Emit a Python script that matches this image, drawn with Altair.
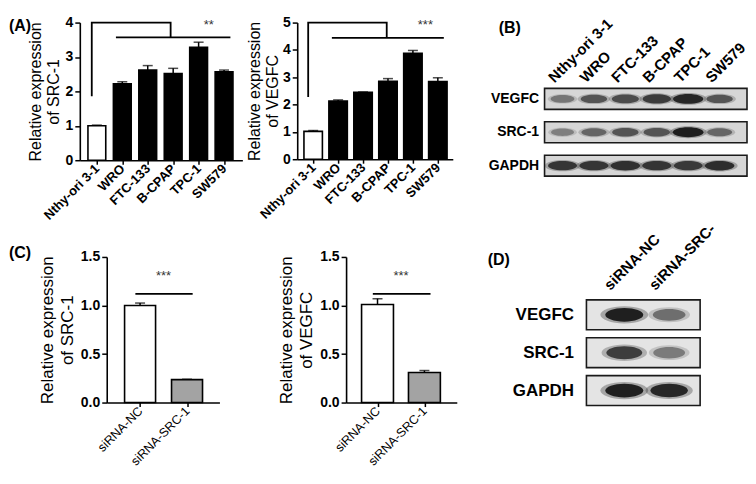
import altair as alt
import pandas as pd

FONT = "Liberation Sans"

# ---------------- Panel A: qRT-PCR in cell lines ----------------
CELL_LINES = ["Nthy-ori 3-1", "WRO", "FTC-133", "B-CPAP", "TPC-1", "SW579"]
CELL_GROUP = ["control", "tumor", "tumor", "tumor", "tumor", "tumor"]
SRC1_MEAN = [1.00, 2.22, 2.62, 2.52, 3.28, 2.57]
SRC1_ERR = [0.02, 0.06, 0.13, 0.15, 0.15, 0.05]
VEGFC_MEAN = [1.02, 2.13, 2.45, 2.85, 3.88, 2.84]
VEGFC_ERR = [0.03, 0.04, 0.01, 0.10, 0.10, 0.14]

# significance brackets (x in category index units, y in data units)
A1_BRACKET_X = [0.8, 0.8, 3.9, 3.9]
A1_BRACKET_Y = [1.86, 4.0, 4.0, 3.57]
A1_GROUP_LINE = [1.75, 6.25, 3.57]
A1_STAR = [5.4, 3.93, "**"]
A2_BRACKET_X = [0.8, 0.8, 3.95, 3.95]
A2_BRACKET_Y = [2.28, 5.0, 5.0, 4.44]
A2_GROUP_LINE = [1.75, 6.24, 4.44]
A2_STAR = [5.5, 4.9, "***"]

# ---------------- Panel C: siRNA knockdown ----------------
SIRNA = ["siRNA-NC", "siRNA-SRC-1"]
SIRNA_GROUP = ["control", "knockdown"]
C_SRC1_MEAN = [1.00, 0.236]
C_SRC1_ERR = [0.025, 0.004]
C_VEGFC_MEAN = [1.01, 0.31]
C_VEGFC_ERR = [0.06, 0.02]
C1_SIG_LINE = [0.9, 2.12, 1.12]
C1_STAR = [1.5, 1.3, "***"]
C2_SIG_LINE = [0.9, 2.13, 1.12]
C2_STAR = [1.5, 1.3, "***"]

# ---------------- Panels B and D: western blots (relative band intensity) ----------------
PROTEINS = ["VEGFC", "SRC-1", "GAPDH"]
B_VEGFC = [0.45, 0.65, 0.70, 0.80, 0.95, 0.65]
B_SRC1 = [0.40, 0.55, 0.65, 0.65, 1.00, 0.55]
B_GAPDH = [0.85, 0.85, 0.88, 0.85, 0.82, 0.90]
D_LANES = ["siRNA-NC", "siRNA-SRC-"]
D_VEGFC = [1.00, 0.50]
D_SRC1 = [0.80, 0.42]
D_GAPDH = [1.00, 0.95]

FILLS = {"control": "#ffffff", "tumor": "#000000", "knockdown": "#a3a3a3"}
ELLIPSE_B = "M-1,0 A1,0.32 0 1,0 1,0 A1,0.32 0 1,0 -1,0 Z"
ELLIPSE_D = "M-1,0 A1,0.36 0 1,0 1,0 A1,0.36 0 1,0 -1,0 Z"


def bar_panel(names, groups, means, errs, width, height, xdom, ydom, yticks, yfmt,
              title, title_size, title_lh, title_pad, hw, bracket_x, bracket_y, line, star,
              letter=None, letter_pos=None, xlab_size=13, xlab_weight="bold"):
    n = len(names)
    df = pd.DataFrame({"pos": list(range(1, n + 1)), "name": names, "group": groups,
                       "mean": means, "err": errs})
    df["x1"] = df["pos"] - hw
    df["x2"] = df["pos"] + hw
    df["top"] = df["mean"] + df["err"]
    df["zero"] = 0.0
    label_expr = "[" + ",".join("'" + s + "'" for s in names) + "][datum.value - 1]"
    xs = alt.Scale(domain=xdom, nice=False, zero=False)
    ys = alt.Scale(domain=ydom, nice=False, zero=False)
    xaxis = alt.Axis(values=list(range(1, n + 1)), labelExpr=label_expr, title=None,
                     labelAngle=-45, labelAlign="right", labelBaseline="middle",
                     labelFontSize=xlab_size, labelFontWeight=xlab_weight, labelColor="black",
                     labelOverlap=False, labelPadding=2, tickSize=4, tickWidth=1.5,
                     tickColor="black", domainColor="black", domainWidth=1.6, grid=False)
    yaxis = alt.Axis(values=yticks, format=yfmt, title=title, titleFontSize=title_size,
                     titleFontWeight="normal", titleLineHeight=title_lh, titleColor="black",
                     titlePadding=title_pad, labelFontSize=14, labelFontWeight="bold",
                     labelOverlap=False, labelColor="black", labelPadding=2, tickSize=5,
                     tickWidth=1.5, tickColor="black", domainColor="black", domainWidth=1.6,
                     grid=False)

    def X(field):
        return alt.X(field, scale=xs, axis=xaxis)

    def Y(field):
        return alt.Y(field, scale=ys, axis=yaxis)

    base = alt.Chart(df)
    bars = base.mark_rect(stroke="black", strokeWidth=1.6).encode(
        x=X("x1:Q"), x2="x2:Q", y=Y("mean:Q"), y2="zero:Q",
        fill=alt.Fill("group:N", scale=alt.Scale(domain=list(FILLS.keys()),
                                                 range=list(FILLS.values())), legend=None),
    )
    err = base.mark_rule(color="black", strokeWidth=1.5).encode(
        x=X("pos:Q"), y=Y("mean:Q"), y2="top:Q")
    cap = base.mark_tick(color="black", orient="horizontal", size=10, thickness=1.5).encode(
        x=X("pos:Q"), y=Y("top:Q"))
    layers = [bars, err, cap]
    if bracket_x:
        bdf = pd.DataFrame({"bx": bracket_x, "by": bracket_y, "o": list(range(len(bracket_x)))})
        layers.append(alt.Chart(bdf).mark_line(color="black", strokeWidth=1.8).encode(
            x=X("bx:Q"), y=Y("by:Q"), order="o:Q"))
    ldf = pd.DataFrame({"lx1": [line[0]], "lx2": [line[1]], "ly": [line[2]]})
    layers.append(alt.Chart(ldf).mark_rule(color="black", strokeWidth=1.8).encode(
        x=X("lx1:Q"), x2="lx2:Q", y=Y("ly:Q")))
    sdf = pd.DataFrame({"sx": [star[0]], "sy": [star[1]], "st": [star[2]]})
    layers.append(alt.Chart(sdf).mark_text(fontSize=13, color="#333333", baseline="middle").encode(
        x=X("sx:Q"), y=Y("sy:Q"), text="st:N"))
    if letter:
        tdf = pd.DataFrame({"t": [letter]})
        layers.append(alt.Chart(tdf).mark_text(align="left", baseline="top", fontSize=16,
                                               fontWeight="bold", color="black",
                                               x=letter_pos[0], y=letter_pos[1]).encode(text="t:N"))
    return alt.layer(*layers).properties(width=width, height=height)


def blot_panel(lanes, rows, width, height, pad_inner, lane_pad, lane_align,
               row_font, row_pad, lane_font, lane_label_pad, lane_label_offset,
               core_range, halo_range, strip_fill, letter, letter_pos, ellipse):
    strips = pd.DataFrame({"protein": PROTEINS})
    recs = []
    for prot, vals in zip(PROTEINS, rows):
        for lane, v in zip(lanes, vals):
            recs.append({"lane": lane, "protein": prot, "intensity": v})
    bdf = pd.DataFrame(recs)
    ys = alt.Scale(domain=PROTEINS, paddingInner=pad_inner, paddingOuter=0)
    xs = alt.Scale(type="point", domain=lanes, padding=lane_pad, align=lane_align)
    yaxis = alt.Axis(title=None, domain=False, ticks=False, labelFontSize=row_font,
                     labelFontWeight="bold", labelColor="black", labelPadding=row_pad)
    xaxis = alt.Axis(orient="top", title=None, domain=False, ticks=False, labelAngle=-45,
                     labelAlign="left", labelBaseline="middle", labelFontSize=lane_font,
                     labelFontWeight="bold", labelColor="black", labelPadding=lane_label_pad,
                     labelOffset=lane_label_offset, labelOverlap=False)
    strip = alt.Chart(strips).mark_rect(fill=strip_fill, stroke="#1a1a1a", strokeWidth=1.6).encode(
        y=alt.Y("protein:N", scale=ys, axis=yaxis, sort=PROTEINS))
    halo = alt.Chart(bdf).mark_point(shape=ellipse, filled=True, opacity=0.35).encode(
        x=alt.X("lane:N", scale=xs, axis=xaxis, sort=lanes),
        y=alt.Y("protein:N", scale=ys, axis=yaxis, sort=PROTEINS),
        size=alt.Size("intensity:Q", scale=alt.Scale(domain=[0, 1], range=halo_range), legend=None),
        color=alt.Color("intensity:Q", scale=alt.Scale(domain=[0, 1], range=["#d0d0d0", "#303030"]),
                        legend=None),
    )
    core = alt.Chart(bdf).mark_point(shape=ellipse, filled=True, opacity=0.92).encode(
        x=alt.X("lane:N", scale=xs, axis=xaxis, sort=lanes),
        y=alt.Y("protein:N", scale=ys, axis=yaxis, sort=PROTEINS),
        size=alt.Size("intensity:Q", scale=alt.Scale(domain=[0, 1], range=core_range), legend=None),
        color=alt.Color("intensity:Q", scale=alt.Scale(domain=[0, 1], range=["#c8c8c8", "#141414"]),
                        legend=None),
    )
    tdf = pd.DataFrame({"t": [letter]})
    lab = alt.Chart(tdf).mark_text(align="left", baseline="top", fontSize=16, fontWeight="bold",
                                   color="black", x=letter_pos[0], y=letter_pos[1]).encode(text="t:N")
    return (alt.layer(strip, halo, core, lab)
            .resolve_scale(size="independent", color="independent")
            .properties(width=width, height=height))


def spacer():
    # 1x1 empty view used only to anchor nested layouts at their bounds
    return (alt.Chart(pd.DataFrame({"v": [0]})).mark_point(opacity=0, size=1)
            .properties(width=1, height=1))


A1 = bar_panel(CELL_LINES, CELL_GROUP, SRC1_MEAN, SRC1_ERR, 163, 138, [0.33, 6.72], [0, 4],
               [0, 1, 2, 3, 4], "d", ["Relative expression", "of SRC-1"], 16, 18, 4, 0.35,
               A1_BRACKET_X, A1_BRACKET_Y, A1_GROUP_LINE, A1_STAR, "(A)", (-71, -5))
A2 = bar_panel(CELL_LINES, CELL_GROUP, VEGFC_MEAN, VEGFC_ERR, 156, 137, [0.36, 6.6], [0, 5],
               [0, 1, 2, 3, 4, 5], "d", ["Relative expression", "of VEGFC"], 16, 18, 2, 0.37,
               A2_BRACKET_X, A2_BRACKET_Y, A2_GROUP_LINE, A2_STAR)
C1 = bar_panel(SIRNA, SIRNA_GROUP, C_SRC1_MEAN, C_SRC1_ERR, 113, 146, [0.29, 2.69], [0, 1.5],
               [0, 0.5, 1.0, 1.5], ".1f", ["Relative expression", "of SRC-1"], 17, 20, 4, 0.33,
               None, None, C1_SIG_LINE, C1_STAR, "(C)", (-98, -12), xlab_size=12.5,
               xlab_weight="normal")
C2 = bar_panel(SIRNA, SIRNA_GROUP, C_VEGFC_MEAN, C_VEGFC_ERR, 111, 146, [0.33, 2.69], [0, 1.5],
               [0, 0.5, 1.0, 1.5], ".1f", ["Relative expression", "of VEGFC"], 17, 20, 4, 0.34,
               None, None, C2_SIG_LINE, C2_STAR, xlab_size=12.5, xlab_weight="normal")

B = blot_panel(CELL_LINES, [B_VEGFC, B_SRC1, B_GAPDH], 203, 88, 0.373, 0.722, 0.396,
               14, 6, 15, 9, -12, [250, 950], [450, 1400], "#d6d6d6", "(B)", (-46, -69),
               ELLIPSE_B)
D = blot_panel(D_LANES, [D_VEGFC, D_SRC1, D_GAPDH], 114, 106, 0.21, 0.767, 0.55,
               17, 13, 15, 13, -18, [700, 1450], [1200, 2300], "#e4e4e4", "(D)", (-99, -48),
               ELLIPSE_D)

row_a = alt.hconcat(spacer(), alt.hconcat(A1, A2, spacing=4), spacing=0)
row_c = alt.hconcat(spacer(), alt.hconcat(C1, C2, spacing=58), spacing=0)
left = alt.vconcat(spacer(), alt.vconcat(row_a, row_c, spacing=22), spacing=0)
row_b = alt.hconcat(spacer(), B, spacing=0)
row_d = alt.hconcat(spacer(), D, spacing=0)
right = alt.vconcat(spacer(), alt.vconcat(row_b, row_d, spacing=43), spacing=0)

chart = (alt.hconcat(left, right, spacing=30)
         .properties(padding={"left": 0, "top": 6, "right": 0, "bottom": 0})
         .configure(font=FONT)
         .configure_view(stroke=None)
         .configure_axis(labelFont=FONT, titleFont=FONT)
         .configure_text(font=FONT))

chart.save("out.html", embed_options={"renderer": "svg", "actions": False})
